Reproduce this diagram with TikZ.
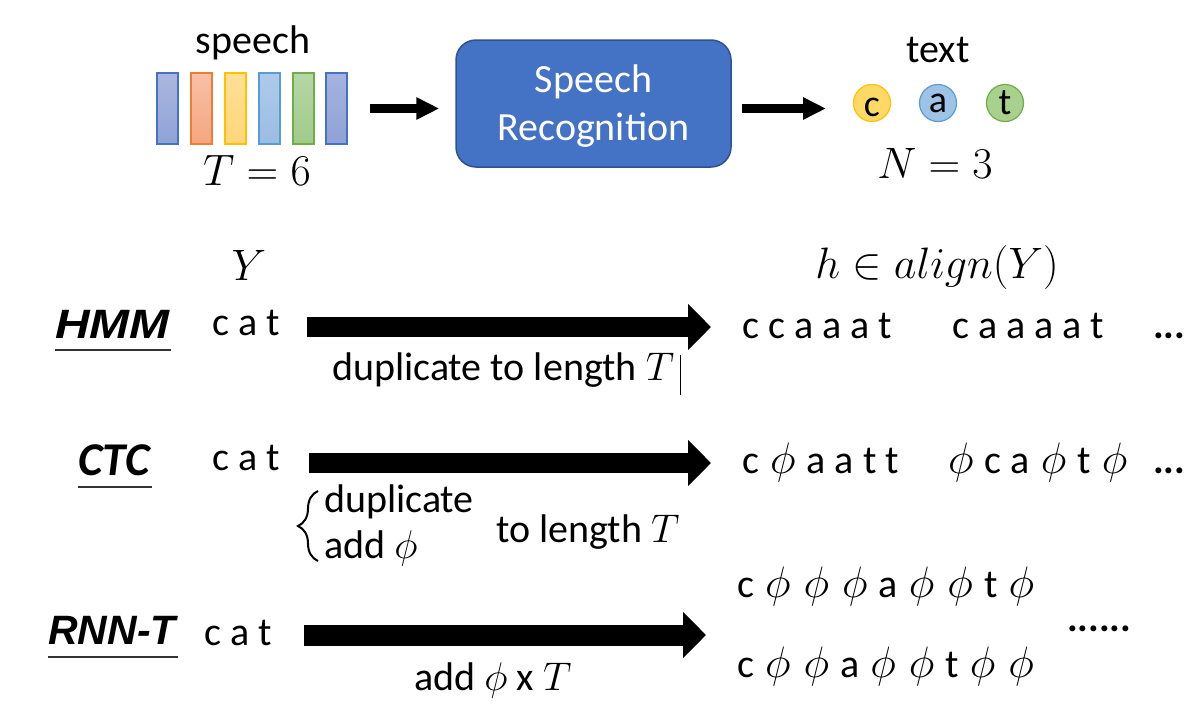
\RequirePackage{fix-cm}
\documentclass[tikz,border=0pt]{standalone}
\usepackage[no-math]{fontspec}
\setmainfont{Carlito}
\newfontfamily\arialf{Liberation Sans}
\usepackage{graphicx}
\usetikzlibrary{arrows.meta,decorations.pathreplacing}
\definecolor{boxblue}{HTML}{4472C4}
\definecolor{boxedge}{HTML}{2F528F}
\definecolor{cOrange}{HTML}{ED7D31}
\definecolor{cYellow}{HTML}{FFC000}
\definecolor{cLBlue}{HTML}{5B9BD5}
\definecolor{cGreen}{HTML}{70AD47}
\newcommand{\myphi}{\hspace{2pt}{\fontsize{44}{48}\selectfont$\phi$}\hspace{2pt}}
\tikzset{
  txt/.style={inner sep=0pt, anchor=base west, font=\fontsize{40}{48}\selectfont},
  txtc/.style={txt, anchor=base},
  mth/.style={inner sep=0pt, anchor=base, font=\fontsize{44}{52}\selectfont},
  method/.style={inner sep=0pt, anchor=base west, font=\arialf\bfseries\itshape\fontsize{41}{48}\selectfont},
  ul/.style={line width=2pt, draw=black!80},
  bar/.style={draw, line width=1.5pt, minimum width=21pt, minimum height=71pt, inner sep=0pt},
  letter/.style={circle, draw, line width=1.2pt, minimum size=37pt, inner sep=0pt},
  bigarrow/.style={line width=20pt, -{Triangle[length=23pt,width=45pt]}},
  smallarrow/.style={line width=9pt, -{Triangle[length=23pt,width=21pt]}},
  dotsty/.style={inner sep=0pt, anchor=base west, font=\bfseries\fontsize{40}{48}\selectfont},
}
\begin{document}
\begin{tikzpicture}[x=1pt,y=-1pt]
\useasboundingbox (0,0) rectangle (1197,726);
\fill[white] (0,0) rectangle (1197,726);

% ---- top row ----
\node[txtc] (speech) at (253,53) {speech};
\node[bar, draw=boxblue, top color={rgb,255:red,170;green,182;blue,223}, bottom color={rgb,255:red,143;green,163;blue,214}] (b1) at (167.5,108.5) {};
\node[bar, draw=cOrange, top color={rgb,255:red,248;green,192;blue,166}, bottom color={rgb,255:red,244;green,166;blue,128}] (b2) at (201.5,108.5) {};
\node[bar, draw=cYellow, top color={rgb,255:red,255;green,225;blue,150}, bottom color={rgb,255:red,255;green,213;blue,122}] (b3) at (235.5,108.5) {};
\node[bar, draw=cLBlue, top color={rgb,255:red,174;green,202;blue,234}, bottom color={rgb,255:red,154;green,189;blue,227}] (b4) at (269.5,108.5) {};
\node[bar, draw=cGreen, top color={rgb,255:red,182;green,214;blue,166}, bottom color={rgb,255:red,160;green,203;blue,138}] (b5) at (303.5,108.5) {};
\node[bar, draw=boxblue, top color={rgb,255:red,166;green,178;blue,222}, bottom color={rgb,255:red,142;green,162;blue,214}] (b6) at (336.5,108.5) {};
\node[mth] (T6) at (257,185) {$T=6$};

\node[draw=boxedge, fill=boxblue, line width=1.5pt, rounded corners=20pt,
      minimum width=275pt, minimum height=127pt, inner sep=0pt] (sr) at (593.5,103.5) {};
\node[txtc, text=white] (sr1) at (593.5,92) {Speech};
\node[txtc, text=white] (sr2) at (593.5,140) {Recognition};

\node[txtc] (textlbl) at (938,62) {text};
\node[letter, draw=cYellow, fill={rgb,255:red,255;green,217;blue,102}] (lc) at (872,103) {};
\node[letter, draw=cLBlue, fill={rgb,255:red,157;green,195;blue,230}] (la) at (938,103) {};
\node[letter, draw=cGreen, fill={rgb,255:red,169;green,209;blue,142}] (lt) at (1005,103) {};
\node[txtc, font=\fontsize{38}{44}\selectfont] at (872,116) {c};
\node[txtc, font=\fontsize{38}{44}\selectfont] at (938,112) {a};
\node[txtc, font=\fontsize{38}{44}\selectfont] at (1005,114) {t};
\node[mth] (N3) at (935,178) {$N=3$};

\draw[smallarrow] ([xshift=22pt]b6.east) -- ([xshift=-16pt]sr.west |- b6.east);
\draw[smallarrow] ([xshift=10pt]sr.east |- b6.east) -- ([xshift=-46pt]lc.center |- b6.east);

% ---- headers ----
\node[mth] (Y) at (249,280) {$Y$};
\node[mth] (hal) at (937,278) {$h\in align(Y)$};

% ---- HMM ----
\node[method] (hmm) at (55,338) {\scalebox{1.17}[1]{HMM}};
\draw[ul] (55,350) -- (171,350);
\node[txt] (catH) at (212,335) {c a t};
\coordinate (hS) at (307,327);
\coordinate (hE) at (711,327);
\draw[bigarrow] (hS) -- (hE);
\node[txt] (dupH) at (332,380) {duplicate to length $T$};
\draw[line width=1pt] (680,355) -- (680,395);
\node[txt] (h1) at (742,338) {c c a a a t};
\node[txt] (h2) at (952,338) {c a a a a t};
\node[dotsty] (hd) at (1153,338) {...};

% ---- CTC ----
\node[method, font=\bfseries\itshape\fontsize{47}{52}\selectfont] (ctc) at (78,475) {CTC};
\draw[ul] (78,487) -- (152,487);
\node[txt] (catC) at (212,470) {c a t};
\coordinate (cS) at (309,463);
\coordinate (cE) at (711,463);
\draw[bigarrow] (cS) -- (cE);
\draw[line width=2pt, decorate, decoration={brace, amplitude=20pt, aspect=0.5}] (318,561) -- (318,491);
\node[txt] (dupC) at (324,512) {duplicate};
\node[txt] (addC) at (324,558) {add $\phi$};
\node[txt] (tolC) at (496,542) {to length $T$};
\node[txt] (c1) at (742,473) {c \myphi{} a a t t};
\node[txt] (c2) at (946,473) {\myphi{} c a \myphi{} t \myphi{}};
\node[dotsty] (cd) at (1153,473) {...};

% ---- RNN-T ----
\node[method] (rnnt) at (48,644) {RNN-T};
\draw[ul] (48,657) -- (178,657);
\node[txt] (catR) at (204,645) {c a t};
\coordinate (rS) at (304,635);
\coordinate (rE) at (706,635);
\draw[bigarrow, line width=21pt] (rS) -- (rE);
\node[txt] (addR) at (414,690) {add $\phi$ x $T$};
\node[txt] (r1) at (737,597) {c \myphi{} \myphi{} \myphi{} a \myphi{} \myphi{} t \myphi{}};
\node[txt] (r2) at (737,677) {c \myphi{} \myphi{} a \myphi{} \myphi{} t \myphi{} \myphi{}};
\node[dotsty] (rd) at (1067,631) {......};
\end{tikzpicture}
\end{document}
